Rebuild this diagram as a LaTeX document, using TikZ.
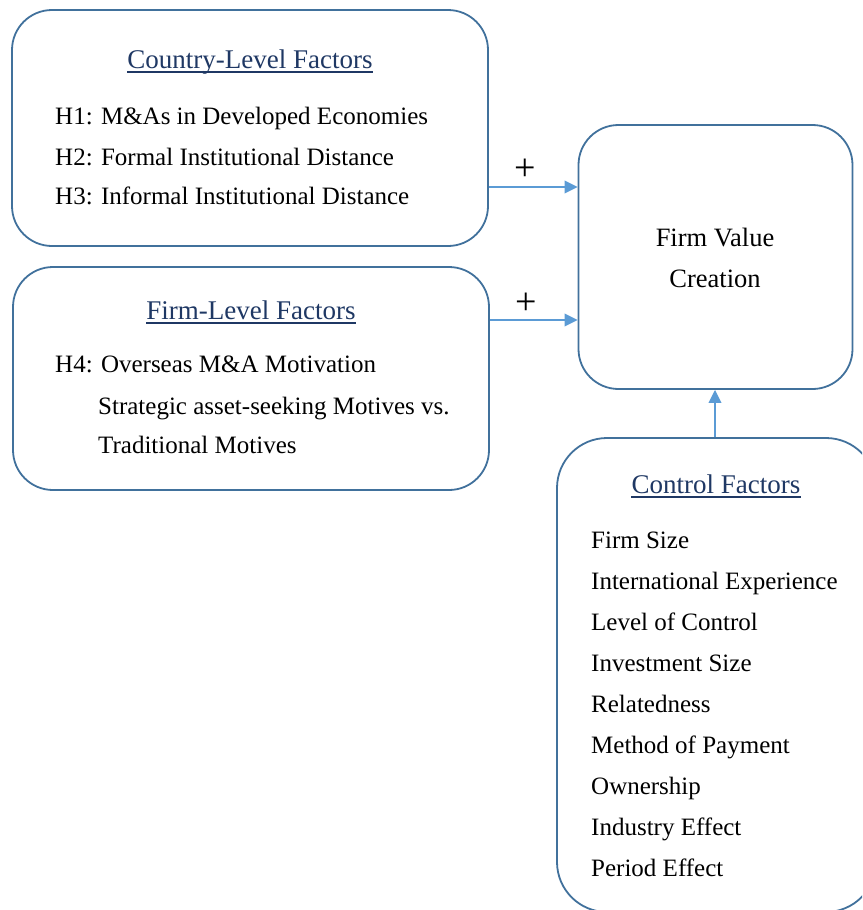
\documentclass[tikz,border=0pt]{standalone}
\usepackage{fontspec}
\setmainfont{Liberation Serif}
\usetikzlibrary{calc,arrows.meta}
\definecolor{boxline}{HTML}{41719C}
\definecolor{arrowblue}{HTML}{5B9BD5}
\definecolor{headnavy}{HTML}{1F3864}
\begin{document}
\begin{tikzpicture}[x=1pt,y=-1pt,
  panel/.style={draw=boxline,line width=1.8pt,inner sep=0pt,fill=white},
  body/.style={anchor=base west,inner sep=0pt,font=\fontsize{25}{30}\selectfont,text=black},
  head/.style={anchor=base,inner sep=0pt,font=\fontsize{27}{32}\selectfont,text=headnavy},
  center/.style={anchor=base,inner sep=0pt,font=\fontsize{26.5}{32}\selectfont,text=black},
  uline/.style={draw=headnavy,line width=1.6pt},
  link/.style={draw=arrowblue,line width=2pt,-{Triangle[length=13pt,width=12.5pt]}},
  sign/.style={inner sep=0pt,font=\fontsize{38}{44}\selectfont}]
\useasboundingbox (0,0) rectangle (862,910);
\clip (0,0) rectangle (862,910);

% panels
\node[panel,rounded corners=40pt,minimum width=476pt,minimum height=236pt] (country) at (250,128) {};
\node[panel,rounded corners=40pt,minimum width=476pt,minimum height=223pt] (firm) at (251,378.5) {};
\node[panel,rounded corners=40pt,minimum width=274pt,minimum height=264pt] (fv) at (715.5,257) {};
\node[panel,rounded corners=50pt,minimum width=319pt,minimum height=474pt] (ctrl) at (716.5,675) {};

% country-level factors
\node[head] (hc) at (250,68) {Country-Level Factors};
\draw[uline] ($(hc.base west)+(0,4)$) -- ($(hc.base east)+(0,4)$);
\node[body] (h1) at (55,124) {H1: M\&As in Developed Economies};
\node[body] (h2) at (55,165) {H2: Formal Institutional Distance};
\node[body] (h3) at (55,204) {H3: Informal Institutional Distance};

% firm-level factors
\node[head] (hf) at (251,319) {Firm-Level Factors};
\draw[uline] ($(hf.base west)+(0,4)$) -- ($(hf.base east)+(0,4)$);
\node[body] (h4) at (55,372) {H4: Overseas M\&A Motivation};
\node[body] (h4a) at (98,414) {Strategic asset-seeking Motives vs.};
\node[body] (h4b) at (98,453) {Traditional Motives};

% outcome
\node[center] (fv1) at (715,246) {Firm Value};
\node[center] (fv2) at (715,287) {Creation};

% control factors
\node[head] (hk) at (716,493) {Control Factors};
\draw[uline] ($(hk.base west)+(0,4)$) -- ($(hk.base east)+(0,4)$);
\foreach \t [count=\i from 0] in {Firm Size,International Experience,Level of Control,Investment Size,Relatedness,Method of Payment,Ownership,Industry Effect,Period Effect}
  \node[body] (c\i) at (591,548+41*\i) {\t};

% connectors
\coordinate (r1) at (0,187);
\coordinate (r2) at (0,320);
\coordinate (r3) at (715,0);
\draw[link] (country.east |- r1) -- (fv.west |- r1);
\draw[link] (firm.east |- r2) -- (fv.west |- r2);
\draw[link] (ctrl.north -| r3) -- (fv.south -| r3);
\node[sign] (p1) at (525,170) {+};
\node[sign] (p2) at (526,304) {+};
\end{tikzpicture}
\end{document}
